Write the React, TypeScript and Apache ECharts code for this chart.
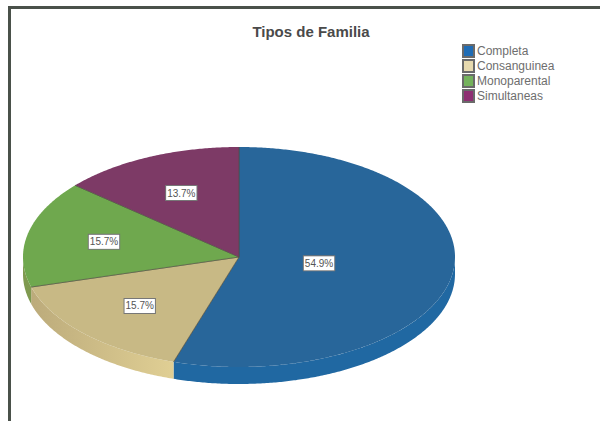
import React, { useEffect, useRef } from "react";
import * as echarts from "echarts";

const titleText = "Tipos de Familia";
const categories = ["Completa", "Consanguinea", "Monoparental", "Simultaneas"];
const percents = [54.9, 15.7, 15.7, 13.7];
const topColors = ["#28669a", "#c8b985", "#6fa84e", "#7d3a66"];
const wallLeft = ["#2068a2", "#bcab7b", "#7f9a50", "#7d3a66"];
const wallRight = ["#2068a2", "#e0cf94", "#7f9a50", "#7d3a66"];
const legendColors = ["#1f6cb5", "#e6d9ae", "#74b25c", "#8e2f72"];

const CX = 239, CY = 257, RX = 216, RY = 110, DEPTH = 17;

const pt = (deg: number, dy = 0): number[] => {
  const a = (deg * Math.PI) / 180;
  return [CX + RX * Math.sin(a), CY - RY * Math.cos(a) + dy];
};
const arc = (from: number, to: number, dy = 0): number[][] => {
  const out: number[][] = [];
  const n = Math.max(2, Math.ceil(Math.abs(to - from) * 2));
  for (let i = 0; i <= n; i++) out.push(pt(from + ((to - from) * i) / n, dy));
  return out;
};

export default function App() {
  const ref = useRef<HTMLDivElement>(null);
  useEffect(() => {
    const chart = echarts.init(ref.current!, null, { renderer: "svg" });
    const total = percents.reduce((a, b) => a + b, 0);
    let acc = 0;
    const spans = percents.map((v) => {
      const s = acc;
      acc += v;
      return [(s / total) * 360, (acc / total) * 360];
    });
    const series: any[] = categories.map((name, idx) => ({
      type: "custom",
      name,
      coordinateSystem: "none",
      silent: true,
      itemStyle: { color: legendColors[idx], borderColor: "#6a6a6a", borderWidth: 1 },
      data: [percents[idx]],
      z: 2,
      renderItem: (_p: any, api: any) => {
        const value = api.value(0);
        const [a0, a1] = spans[idx];
        const children: any[] = [];
        const wallFrom = Math.max(a0, 90);
        const wallTo = Math.min(a1, 270);
        if (wallTo > wallFrom) {
          children.push({
            type: "polygon",
            shape: { points: [...arc(wallFrom, wallTo), ...arc(wallTo, wallFrom, DEPTH)] },
            style: {
              fill: new echarts.graphic.LinearGradient(0, 0, 1, 0, [
                { offset: 0, color: wallLeft[idx] },
                { offset: 1, color: wallRight[idx] },
              ]),
            },
          });
        }
        children.push({
          type: "polygon",
          shape: { points: [[CX, CY], ...arc(a0, a1)] },
          style: { fill: topColors[idx] },
        });
        children.push({
          type: "polyline",
          shape: { points: [pt(a0), [CX, CY], pt(a1)] },
          style: { fill: "none", stroke: "#4f4f42", lineWidth: 0.6 },
        });
        const mid = pt((a0 + a1) / 2);
        const frac = value > 50 ? 0.375 : 0.64;
        children.push({
          type: "text",
          x: CX + (mid[0] - CX) * frac,
          y: CY + (mid[1] - CY) * frac,
          z2: 10,
          style: {
            text: value.toFixed(1) + "%",
            align: "center",
            verticalAlign: "middle",
            fontFamily: "Liberation Sans",
            fontSize: 10,
            fill: "#555555",
            backgroundColor: "#ffffff",
            borderColor: "#777777",
            borderWidth: 1,
            padding: [2, 1, 2, 1],
          },
        });
        return { type: "group", children };
      },
    }));
    chart.setOption({
      animation: false,
      backgroundColor: "#ffffff",
      title: {
        text: titleText,
        left: 306,
        top: 19,
        textAlign: "center",
        textStyle: { fontFamily: "Liberation Sans", fontSize: 15, fontWeight: "bold", color: "#4a4a4a" },
      },
      legend: {
        orient: "vertical",
        left: 462,
        top: 44,
        padding: 0,
        itemWidth: 11,
        itemHeight: 12,
        itemGap: 1,
        icon: "rect",
        selectedMode: false,
        data: categories,
        textStyle: { fontFamily: "Liberation Sans", fontSize: 12, color: "#6e6e6e", padding: [0, 0, 0, -2] },
      },
      graphic: [
        { type: "rect", shape: { x: 8, y: 6, width: 3, height: 415 }, style: { fill: "#4a514a" }, silent: true },
        { type: "rect", shape: { x: 8, y: 6, width: 592, height: 3 }, style: { fill: "#4a514a" }, silent: true },
      ],
      series,
    });
    return () => chart.dispose();
  }, []);
  return <div ref={ref} style={{ position: "absolute", left: 0, top: 0, width: 600, height: 421 }} />;
}
